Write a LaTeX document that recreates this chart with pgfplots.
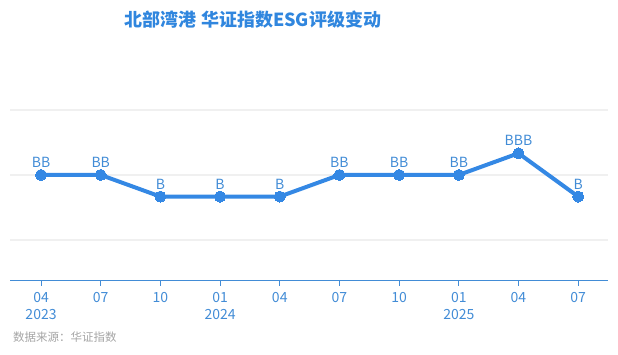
\documentclass[border=0pt]{standalone}
\usepackage{pgfplots}
\pgfplotsset{compat=1.18}
\usepackage{fontspec}
\setmainfont{Noto Sans CJK SC}
\definecolor{lineblue}{RGB}{52,136,228}
\definecolor{titleblue}{RGB}{48,134,222}
\definecolor{tickblue}{RGB}{66,140,214}
\definecolor{gridgray}{RGB}{240,240,240}
\definecolor{srcgray}{RGB}{165,165,165}
\pgfplotstableread{
x y lab
0 5 BB
1 5 BB
2 4 B
3 4 B
4 4 B
5 5 BB
6 5 BB
7 5 BB
8 6 BBB
9 4 B
}\ratings
\begin{document}
\begin{tikzpicture}[x=1pt,y=1pt]
\useasboundingbox (-10,-74) rectangle (608,281);
\begin{axis}[
  at={(0,0)}, anchor=south west,
  scale only axis, width=598pt, height=171pt,
  xmin=-0.52, xmax=9.5, ymin=0.1, ymax=8,
  axis x line*=bottom, axis y line*=left,
  x axis line style={draw=tickblue, line width=1pt},
  y axis line style={draw=none},
  xtick=data,
  xticklabels={{04\\2023},07,10,{01\\2024},04,07,10,{01\\2025},04,07},
  xticklabel style={align=center, font=\fontsize{14}{17}\selectfont, text=tickblue, inner sep=2pt, yshift=-4pt},
  x tick style={draw=tickblue, line width=1pt},
  tick align=outside, major tick length=5pt,
  ytick={2,5,8}, yticklabels={},
  y tick style={draw=none},
  ymajorgrids, grid style={gridgray, line width=1.5pt},
  clip=false,
  point meta=explicit symbolic,
  nodes near coords,
  nodes near coords style={font=\fontsize{14}{16}\selectfont, text=tickblue, anchor=south, yshift=4pt},
]
\addplot[lineblue, line width=4pt, mark=*, mark size=5.5pt, mark options={fill=lineblue, draw=lineblue, line width=0pt}] table[x=x, y=y, meta=lab] {\ratings};
\end{axis}
\node[font=\fontsize{18}{21}\selectfont\bfseries, text=titleblue] at (243,261) {北部湾港 华证指数ESG评级变动};
\node[font=\fontsize{11.5}{13}\selectfont, text=srcgray, anchor=west, inner sep=0pt] at (3,-56) {数据来源：华证指数};
\end{tikzpicture}
\end{document}
